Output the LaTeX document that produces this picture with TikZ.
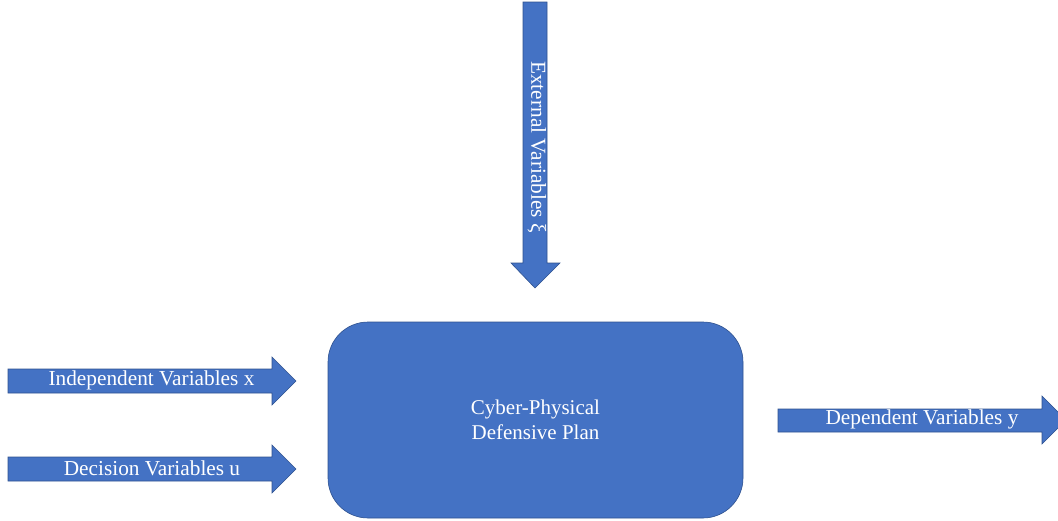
\documentclass[tikz,border=0pt]{standalone}
\usepackage{fontspec}
\setmainfont{Liberation Serif}
\definecolor{boxblue}{HTML}{4472C4}
\definecolor{edgeblue}{HTML}{2F528F}
\begin{document}
\begin{tikzpicture}[x=1pt,y=-1pt,
  blockarrow/.style={fill=boxblue,draw=edgeblue,line width=0.6pt,line join=miter},
  lbl/.style={text=white,font=\fontsize{21.3}{24}\selectfont,inner sep=0pt}]
\useasboundingbox (0,0) rectangle (1058,520);
% central rounded box
\node[fill=boxblue,draw=edgeblue,line width=0.6pt,rounded corners=40pt,
  minimum width=415pt,minimum height=196pt,inner sep=0pt,
  text=white,font=\fontsize{21}{25}\selectfont,align=center] (plan) at (535.5,420)
  {Cyber-Physical\\Defensive Plan};
% external arrow (top, pointing down)
\draw[blockarrow] (523,2) -- (547,2) -- (547,263) -- (560,263) -- (535,288) -- (511,263) -- (523,263) -- cycle;
\node[lbl,rotate=-90] (ext) at (537,147) {External Variables ξ};
% independent variables
\draw[blockarrow] (8,369) -- (272,369) -- (272,357) -- (296,381) -- (272,405) -- (272,393) -- (8,393) -- cycle;
\node[lbl] (indep) at (151.5,380) {Independent Variables x};
% decision variables
\draw[blockarrow] (8,457) -- (272,457) -- (272,445) -- (296,469) -- (272,493) -- (272,481) -- (8,481) -- cycle;
\node[lbl] (dec) at (152,468) {Decision Variables u};
% dependent variables
\draw[blockarrow] (778,409) -- (1042,409) -- (1042,396) -- (1066,420) -- (1042,444) -- (1042,432) -- (778,432) -- cycle;
\node[lbl] (dep) at (922,419) {Dependent Variables y};
\end{tikzpicture}
\end{document}
